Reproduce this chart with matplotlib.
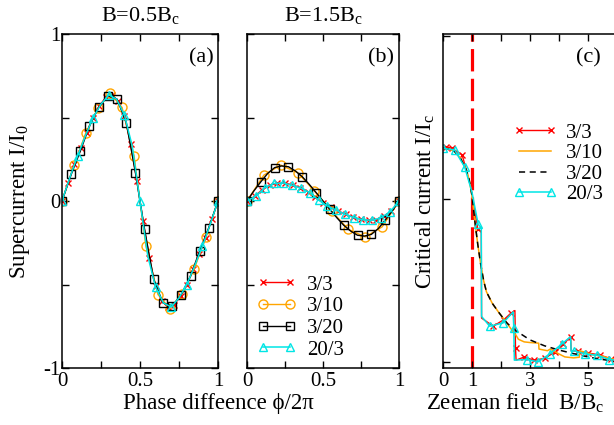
import matplotlib
matplotlib.use("Agg")
import matplotlib.pyplot as plt
from matplotlib.ticker import FixedLocator

plt.rcParams['font.family'] = ['Liberation Serif', 'DejaVu Serif']
plt.rcParams['mathtext.fontset'] = 'custom'
plt.rcParams['mathtext.rm'] = 'Liberation Serif'
plt.rcParams['mathtext.default'] = 'regular'
plt.rcParams['axes.unicode_minus'] = False

# ---- panel (a): B = 0.5 Bc ----
a_x_33 = [0, .04, .08, .12, .16, .20, .24, .28, .32, .36, .40, .44, .48,
          .52, .56, .60, .64, .68, .72, .76, .80, .84, .88, .92, .96, 1.0]
a_y_33 = [0, .11, .22, .32, .41, .50, .57, .62, .635, .60, .51, .34, .12,
          -.12, -.34, -.51, -.60, -.635, -.62, -.57, -.50, -.41, -.32, -.22, -.11, 0]
a_x_310 = [0, .077, .154, .231, .308, .385, .462, .538, .615, .692, .769, .846, .923, 1]
a_y_310 = [0, .215, .41, .555, .645, .56, .27, -.27, -.56, -.645, -.555, -.41, -.215, 0]
a_x_320 = [0, .059, .118, .176, .235, .294, .353, .412, .471,
           .529, .588, .647, .706, .765, .824, .882, .941, 1]
a_y_320 = [0, .16, .30, .45, .56, .63, .61, .47, .17,
           -.17, -.47, -.61, -.63, -.56, -.45, -.30, -.16, 0]
a_x_203 = [0, .05, .1, .15, .2, .25, .3, .35, .4, .45, .5,
           .55, .6, .65, .7, .75, .8, .85, .9, .95, 1.0]
a_y_203 = [0, .14, .27, .39, .50, .58, .635, .61, .515, .33, 0,
           -.33, -.515, -.61, -.635, -.58, -.50, -.39, -.27, -.14, 0]

# ---- panel (b): B = 1.5 Bc ----
b_x_33 = [0, .05, .1, .15, .2, .25, .3, .35, .4, .45, .5,
          .55, .6, .65, .7, .75, .8, .85, .9, .95, 1.0]
b_y_33 = [0, .028, .068, .095, .105, .108, .096, .08, .056, .022, -.01,
          -.035, -.06, -.08, -.098, -.11, -.116, -.112, -.092, -.06, 0]
b_x_310 = [0, .111, .222, .333, .444, .556, .667, .778, .889, 1]
b_y_310 = [0, .155, .215, .17, .06, -.06, -.17, -.215, -.155, 0]
b_x_320 = [0, .045, .091, .136, .182, .227, .273, .318, .364, .409, .455, .5,
           .545, .591, .636, .682, .727, .773, .818, .864, .909, .955, 1]
b_y_320 = [0, .06, .115, .165, .20, .21, .205, .18, .145, .10, .05, 0,
           -.05, -.10, -.145, -.18, -.205, -.21, -.20, -.165, -.115, -.06, 0]
b_x_203 = [0, .059, .118, .176, .235, .294, .353, .412, .471,
           .529, .588, .647, .706, .765, .824, .882, .941, 1]
b_y_203 = [0, .03, .08, .105, .108, .095, .078, .05, .005,
           -.03, -.055, -.08, -.10, -.113, -.115, -.10, -.065, 0]

# ---- panel (c): critical current vs Zeeman field ----
c_x_33 = [0, .1, .3, .66, .95, 1.2, 1.32, 1.33, 1.73, 2.1, 2.33, 2.48, 2.5, 2.52,
          2.81, 3.15, 3.5, 3.85, 4.15, 4.40, 4.42, 4.65, 5.0, 5.4, 5.8, 6.3, 7.0, 8.0]
c_y_33 = [.655, .66, .655, .635, .54, .407, .40, .135, .11, .13, .149, .158, .042, .006,
          .016, .005, .012, .03, .055, .078, .035, .033, .028, .022, .01, .004, 0, 0]
c_mark_33 = [1, 2, 3, 5, 8, 9, 10, 12, 14, 15, 16, 17, 18, 19, 21, 22, 23, 24]
c_x_310 = [0, .2, .4, .6, .8, .9, 1.0, 1.1, 1.2, 1.3, 1.4, 1.5, 1.7, 1.9, 2.2, 2.4, 2.5,
           2.6, 2.8, 3.0, 3.3, 3.31, 3.6, 3.7, 3.9, 4.0, 4.2, 4.5, 4.7, 4.71, 4.9, 5.2,
           5.5, 5.8, 6.0, 7.0, 8.0]
c_y_310 = [.655, .653, .645, .625, .59, .56, .51, .43, .36, .30, .25, .215, .18, .155, .12,
           .095, .085, .07, .062, .06, .058, .04, .035, .04, .03, .025, .016, .013, .015,
           .035, .03, .022, .018, .01, .008, .003, 0]
c_x_320 = [0, .2, .4, .6, .8, .9, 1.0, 1.1, 1.2, 1.3, 1.4, 1.5, 1.7, 1.9, 2.2, 2.5,
           3.0, 3.5, 4.0, 4.5, 5.0, 5.5, 6.0, 7.0, 8.0]
c_y_320 = [.655, .653, .645, .625, .59, .56, .51, .43, .36, .30, .25, .215, .18, .155,
           .12, .097, .068, .05, .037, .026, .016, .008, .002, 0, 0]
c_x_203 = [0, .4, .75, 1.0, 1.21, 1.32, 1.33, 1.61, 2.07, 2.42, 2.44, 2.46, 2.88, 3.28,
           3.68, 4.09, 4.40, 4.42, 4.51, 4.91, 5.32, 5.72, 6.2, 7.0, 8.0]
c_y_203 = [.655, .65, .597, .52, .423, .41, .14, .11, .12, .154, .106, .006, .008, .001,
           .025, .055, .078, .033, .035, .025, .021, .008, .004, 0, 0]
c_mark_203 = [0, 1, 2, 4, 7, 8, 10, 12, 13, 14, 15, 18, 19, 20, 21]
bc_line = 1.0

labels = ['3/3', '3/10', '3/20', '20/3']
RED, ORANGE, CYAN = '#ff0000', '#ffa500', '#00e5e5'

W, H = 614, 425
fig = plt.figure(figsize=(W / 100, H / 100), dpi=100)


def px_axes(l, r, t, b):
    return fig.add_axes([l / W, 1 - b / H, (r - l) / W, (b - t) / H])


def style(ax):
    ax.tick_params(which='both', direction='in', top=True, right=True,
                   length=5, width=1, labelsize=15)
    ax.tick_params(axis='x', pad=3)
    ax.tick_params(axis='y', pad=1)
    for s in ax.spines.values():
        s.set_linewidth(1.1)


def phase_panel(ax, data):
    specs = [(RED, 'x', 4, 1.0), (ORANGE, 'o', 6.5, 1.0),
             ('black', 's', 6, 1.0), (CYAN, '^', 6, 1.1)]
    for (xs, ys, me), (c, m, ms, lw), lab in zip(data, specs, labels):
        ax.plot(xs, ys, color=c, marker=m, ms=ms, mfc='none', mec=c, mew=1.0,
                lw=lw, markevery=me, label=lab)
    ax.set_xlim(0, 1)
    ax.set_ylim(-1, 1)
    ax.xaxis.set_major_locator(FixedLocator([0, .5, 1]))
    ax.xaxis.set_minor_locator(FixedLocator([.25, .75]))
    ax.yaxis.set_major_locator(FixedLocator([-1, 0, 1]))
    ax.yaxis.set_minor_locator(FixedLocator([-.5, .5]))
    ax.set_xticklabels(['0', '0.5', '1'])
    style(ax)


ax_a = px_axes(62, 218, 34, 368)
phase_panel(ax_a, [(a_x_33, a_y_33, 1), (a_x_310, a_y_310, 1),
                   (a_x_320, a_y_320, 1), (a_x_203, a_y_203, 2)])
ax_a.set_yticklabels(['-1', '0', '1'])
ax_a.text(0.97, 0.93, '(a)', transform=ax_a.transAxes, ha='right', va='center', fontsize=16)

ax_b = px_axes(247, 399, 34, 368)
phase_panel(ax_b, [(b_x_33, b_y_33, 1), (b_x_310, b_y_310, 1),
                   (b_x_320, b_y_320, 2), (b_x_203, b_y_203, 1)])
ax_b.set_yticklabels([])
ax_b.text(0.97, 0.93, '(b)', transform=ax_b.transAxes, ha='right', va='center', fontsize=16)
ax_b.legend(loc='upper left', bbox_to_anchor=(257 / W, 1 - 275 / H),
            bbox_transform=fig.transFigure, frameon=False, fontsize=15,
            numpoints=2, handlelength=1.9, handletextpad=0.5, labelspacing=0.1,
            borderpad=0, borderaxespad=0)

# panel (c)
ax_c = px_axes(443, 443 + 8 * 29, 34, 368)
ax_c.axvline(bc_line, color=RED, lw=2.3, dashes=(7, 2.3), zorder=1)
ax_c.plot(c_x_33, c_y_33, color=RED, marker='x', ms=4, mew=1.0, lw=1.0,
          markevery=c_mark_33, label='3/3')
ax_c.plot(c_x_310, c_y_310, color=ORANGE, lw=1.1, label='3/10')
ax_c.plot(c_x_320, c_y_320, color='black', lw=1.1, dashes=(4, 3), label='3/20')
ax_c.plot(c_x_203, c_y_203, color=CYAN, marker='^', ms=6, mfc='none', mec=CYAN, mew=1.0,
          lw=1.1, markevery=c_mark_203, label='20/3')
ax_c.set_xlim(0, 8)
ax_c.set_ylim(-0.018, 1.005)
ax_c.xaxis.set_major_locator(FixedLocator(list(range(9))))
ax_c.set_xticklabels(['0', '1', '', '3', '', '5', '', '7', ''])
ax_c.yaxis.set_major_locator(FixedLocator([0, .5, 1]))
ax_c.set_yticklabels([])
style(ax_c)
ax_c.text(588 / W, 1 - 58 / H, '(c)', transform=fig.transFigure, ha='center', va='center',
          fontsize=16)
ax_c.legend(loc='upper left', bbox_to_anchor=(513 / W, 1 - 123 / H),
            bbox_transform=fig.transFigure, frameon=False, fontsize=15,
            numpoints=2, handlelength=2.1, handletextpad=0.45, labelspacing=0.05,
            borderpad=0, borderaxespad=0)

# titles and axis labels
fig.text(140 / W, 1 - 15 / H, 'B=0.5B$_c$', ha='center', va='center', fontsize=16)
fig.text(323 / W, 1 - 15 / H, 'B=1.5B$_c$', ha='center', va='center', fontsize=16)
fig.text(20 / W, 1 - 201 / H, 'Supercurrent I/I$_0$', rotation=90,
         ha='center', va='center', fontsize=16.5)
fig.text(218 / W, 1 - 403 / H, 'Phase diffeence \u03d5/2\u03c0', ha='center', va='center',
         fontsize=16.5)
fig.text(425 / W, 1 - 201 / H, 'Critical current I/I$_c$', rotation=90,
         ha='center', va='center', fontsize=16.5)
fig.text(426 / W, 1 - 403 / H, 'Zeeman field  B/B$_c$', ha='left', va='center',
         fontsize=16.5)

fig.savefig('out.png', dpi=100)
